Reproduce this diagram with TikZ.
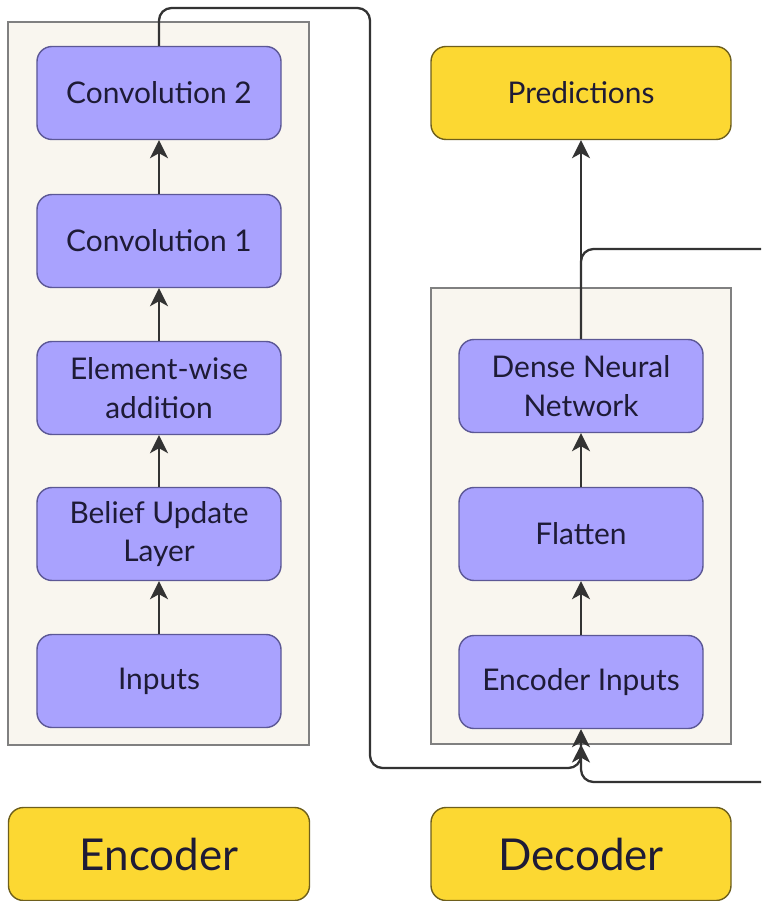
\documentclass[tikz,border=0pt]{standalone}
\usepackage{fontspec}
\setmainfont{Lato}
\usetikzlibrary{arrows.meta,positioning}
\definecolor{layer_fill}{HTML}{A9A2FE}
\definecolor{layer_edge}{HTML}{5C5896}
\definecolor{title_fill}{HTML}{FCD832}
\definecolor{title_edge}{HTML}{6E5F1C}
\definecolor{group_fill}{HTML}{F9F6EF}
\definecolor{group_edge}{HTML}{808080}
\definecolor{link_gray}{HTML}{333333}
\definecolor{text_dark}{HTML}{1E1B36}

\begin{document}
\begin{tikzpicture}[
                x=0.2mm,
                y=-0.2mm,
                layer/.style={draw=layer_edge, fill=layer_fill, line width=0.8pt,
                    rounded corners=3mm, minimum width=48.8mm, minimum height=18.6mm,
                    align=center, text=text_dark, font=\fontsize{17}{22}\selectfont},
                title/.style={draw=title_edge, fill=title_fill, line width=0.8pt,
                    rounded corners=3mm, minimum width=60.2mm, minimum height=18.6mm,
                    align=center, text=text_dark},
                group/.style={draw=group_edge, fill=group_fill, line width=0.6pt},
                link/.style={draw=link_gray, line width=1.3pt, rounded corners=2.5mm,
                    -{Stealth[length=3.6mm, width=3.6mm, inset=1mm]}}
            ]
            \useasboundingbox (0,0) rectangle (761,901);
            \clip (0,0) rectangle (761,901);

            % Group backgrounds
            \node[group, minimum width=60.2mm, minimum height=144.6mm] (encgroup) at (158.5,383.5) {};
            \node[group, minimum width=60mm, minimum height=91.2mm] (decgroup) at (581,516) {};

            % Encoder layers
            \node[layer] (inputs) at (159,681) {Inputs};
            \node[layer] (belief) at (159,534) {Belief Update\\Layer};
            \node[layer] (addition) at (159,388) {Element-wise\\addition};
            \node[layer] (conv1) at (159,241) {Convolution 1};
            \node[layer] (conv2) at (159,93) {Convolution 2};

            % Decoder layers
            \node[layer] (encinputs) at (581,682) {Encoder Inputs};
            \node[layer] (flatten) at (581,534) {Flatten};
            \node[layer] (dense) at (581,386) {Dense Neural\\Network};
            \node[title, minimum width=60mm, font=\fontsize{17}{22}\selectfont] (predictions) at (581,93) {Predictions};

            % Titles
            \node[title, font=\fontsize{25}{30}\selectfont] (encoder) at (159,854) {Encoder};
            \node[title, minimum width=60mm, font=\fontsize{25}{30}\selectfont] (decoder) at (581,854) {Decoder};

            % Encoder flow
            \draw[link] (inputs) -- (belief);
            \draw[link] (belief) -- (addition);
            \draw[link] (addition) -- (conv1);
            \draw[link] (conv1) -- (conv2);

            % Decoder flow
            \draw[link] (encinputs) -- (flatten);
            \draw[link] (flatten) -- (dense);
            \draw[link] (dense) -- (predictions);

            % Encoder output into decoder
            \draw[link] (conv2.north) -- (159,8) -- (370,8) -- (370,768) -- (581,768) -- (encinputs.south);

            % Feedback loop
            \draw[link] (dense.north) -- (581,249) -- (790,249) -- (790,782) -- (581,782) -- (decgroup.south);
        \end{tikzpicture}
\end{document}
